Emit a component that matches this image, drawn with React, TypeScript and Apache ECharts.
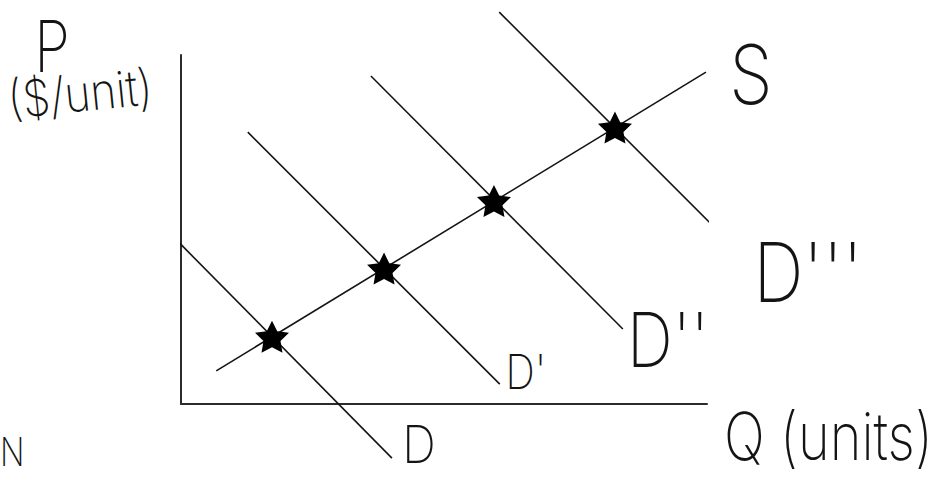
import React, { useEffect, useRef } from "react";
import * as echarts from "echarts";

// Quantity (x) and price (y) both run on a 0–10 scale.
const quantityRange = [0, 10];
const priceRange = [0, 10];

// Upward-sloping supply curve S.
const supplyS = [
  [0.67, 0.95],
  [9.98, 9.51],
];

// Successive rightward shifts of demand: D, D', D'', D'''.
const demandD = [
  [-0.78, 5.76],
  [4.01, -1.55],
];
const demandD1 = [
  [1.27, 7.79],
  [6.06, 0.57],
];
const demandD2 = [
  [3.61, 9.4],
  [8.4, 2.15],
];
const demandD3 = [
  [6.05, 11.23],
  [10.82, 4.04],
];

// Equilibrium points where each demand curve meets supply.
const equilibria = [
  [1.73, 1.93],
  [3.86, 3.88],
  [5.95, 5.82],
  [8.25, 7.92],
];

const INK = "#141414";
const HAND = "Inter, 'DejaVu Sans', sans-serif";
const STAR =
  "path://M50,0 L64.7,29.8 L97.6,34.5 L73.8,57.7 L79.4,90.5 L50,75 L20.6,90.5 L26.2,57.7 L2.4,34.5 L35.3,29.8 Z";

function label(text: string, x: number, y: number, size: number, opts: any = {}) {
  return {
    type: "text",
    x,
    y,
    rotation: opts.rotation || 0,
    scaleX: opts.scaleX || 1,
    scaleY: opts.scaleY || 1,
    silent: true,
    style: {
      text,
      font: `200 ${size}px ${HAND}`,
      fill: INK,
      align: opts.align || "left",
      verticalAlign: "middle",
      textAlign: opts.align || "left",
      textVerticalAlign: "middle",
    },
  };
}

function lineSeries(name: string, data: number[][]) {
  return {
    name,
    type: "line",
    data,
    symbol: "none",
    clip: false,
    silent: true,
    lineStyle: { color: INK, width: 1.6 },
    z: 2,
  };
}

export default function App() {
  const ref = useRef<HTMLDivElement>(null);

  useEffect(() => {
    if (!ref.current) return;
    const chart = echarts.init(ref.current, null, { renderer: "svg" });

    const axisCommon = {
      type: "value",
      axisLine: { show: true, lineStyle: { color: "#2b2b2b", width: 2 } },
      axisTick: { show: false },
      axisLabel: { show: false },
      splitLine: { show: false },
    };

    chart.setOption({
      animation: false,
      backgroundColor: "#ffffff",
      grid: { left: 181, top: 55, width: 526, height: 349 },
      xAxis: { ...axisCommon, min: quantityRange[0], max: quantityRange[1] },
      yAxis: { ...axisCommon, min: priceRange[0], max: priceRange[1] },
      series: [
        lineSeries("S", supplyS),
        lineSeries("D", demandD),
        lineSeries("D'", demandD1),
        lineSeries("D''", demandD2),
        lineSeries("D'''", demandD3),
        {
          name: "equilibrium",
          type: "scatter",
          data: equilibria,
          symbol: STAR,
          symbolSize: [34, 32],
          clip: false,
          silent: true,
          itemStyle: { color: "#000000", opacity: 1 },
          z: 5,
        },
      ],
      graphic: [
        label("S", 751, 74, 82, { align: "center", scaleX: 0.85 }),
        label("D", 419, 444, 52, { align: "center", scaleX: 0.9 }),
        label("D'", 526, 372, 48, { align: "center", scaleX: 0.85 }),
        label("D''", 668, 340, 75, { align: "center", scaleX: 0.85 }),
        label("D'''", 808, 272, 82, { align: "center", scaleX: 0.85 }),
        label("Q (units)", 724, 436, 66, { scaleX: 0.82 }),
        label("P", 52, 46, 72, { align: "center", scaleX: 0.8 }),
        label("($/unit)", 8, 100, 50, { rotation: 0.1, scaleX: 0.88 }),
        label("N", 0, 452, 40, { scaleX: 0.8 }),
      ],
    });

    return () => chart.dispose();
  }, []);

  return (
    <div
      ref={ref}
      style={{ position: "fixed", left: 0, top: 0, width: 945, height: 477, background: "#fff" }}
    />
  );
}
